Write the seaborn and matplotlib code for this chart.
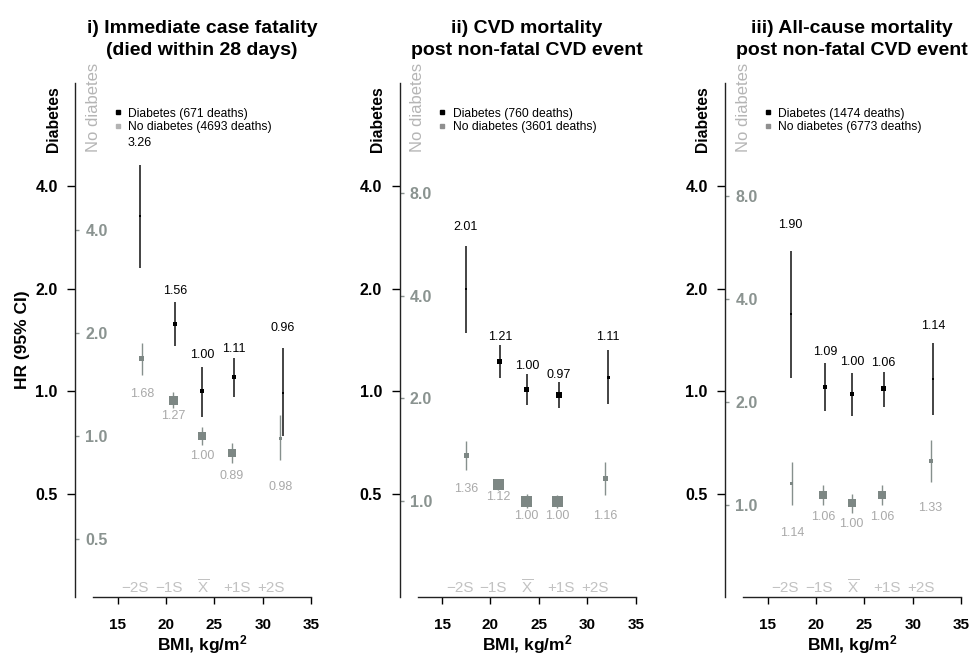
import numpy as np
import pandas as pd
import matplotlib
matplotlib.use("Agg")
import matplotlib.pyplot as plt
import seaborn as sns
from matplotlib.ticker import NullLocator
from matplotlib.lines import Line2D
from matplotlib.transforms import blended_transform_factory

sns.set_style("ticks")
plt.rcParams['font.family'] = ['Liberation Sans', 'DejaVu Sans']
plt.rcParams['mathtext.fontset'] = 'custom'
plt.rcParams['mathtext.rm'] = 'Liberation Sans'
plt.rcParams['mathtext.bf'] = 'Liberation Sans:bold'
plt.rcParams['mathtext.it'] = 'Liberation Sans:italic'
plt.rcParams['text.color'] = 'black'
plt.rcParams['axes.labelcolor'] = 'black'
plt.rcParams['xtick.color'] = 'black'
plt.rcParams['ytick.color'] = 'black'

# ---------------- data ----------------
titles = ["i) Immediate case fatality\n(died within 28 days)",
          "ii) CVD mortality\npost non-fatal CVD event",
          "iii) All-cause mortality\npost non-fatal CVD event"]
legend_dm = ["Diabetes (671 deaths)", "Diabetes (760 deaths)", "Diabetes (1474 deaths)"]
legend_nd = ["No diabetes (4693 deaths)", "No diabetes (3601 deaths)", "No diabetes (6773 deaths)"]

# Panel i
bmi_dm_1 = [17.3, 20.9, 23.7, 27.0, 32.1]
hr_dm_1 = [3.26, 1.58, 1.00, 1.10, 0.99]
lo_dm_1 = [2.30, 1.36, 0.84, 0.96, 0.74]
hi_dm_1 = [4.60, 1.83, 1.18, 1.25, 1.34]
lab_dm_1 = ["3.26", "1.56", "1.00", "1.11", "0.96"]
bmi_nd_1 = [17.5, 20.75, 23.7, 26.8, 31.8]
hr_nd_1 = [1.68, 1.27, 1.00, 0.89, 0.98]
lo_nd_1 = [1.51, 1.21, 0.94, 0.83, 0.85]
hi_nd_1 = [1.87, 1.34, 1.065, 0.95, 1.15]
lab_nd_1 = ["1.68", "1.27", "1.00", "0.89", "0.98"]

# Panel ii
bmi_dm_2 = [17.42, 20.96, 23.75, 27.03, 32.16]
hr_dm_2 = [2.00, 1.225, 1.01, 0.975, 1.10]
lo_dm_2 = [1.48, 1.094, 0.913, 0.893, 0.92]
hi_dm_2 = [2.67, 1.366, 1.124, 1.065, 1.32]
lab_dm_2 = ["2.01", "1.21", "1.00", "0.97", "1.11"]
bmi_nd_2 = [17.52, 20.79, 23.73, 26.89, 31.86]
hr_nd_2 = [1.36, 1.117, 1.00, 1.00, 1.163]
lo_nd_2 = [1.23, 1.075, 0.954, 0.954, 1.04]
hi_nd_2 = [1.50, 1.16, 1.05, 1.04, 1.30]
lab_nd_2 = ["1.36", "1.12", "1.00", "1.00", "1.16"]

# Panel iii
bmi_dm_3 = [17.37, 20.93, 23.71, 26.98, 32.08]
hr_dm_3 = [1.68, 1.032, 0.98, 1.018, 1.089]
lo_dm_3 = [1.096, 0.877, 0.847, 0.903, 0.851]
hi_dm_3 = [2.58, 1.21, 1.133, 1.141, 1.386]
lab_dm_3 = ["1.90", "1.09", "1.00", "1.06", "1.14"]
bmi_nd_3 = [17.52, 20.75, 23.68, 26.84, 31.83]
hr_nd_3 = [1.157, 1.07, 1.01, 1.07, 1.34]
lo_nd_3 = [1.0, 1.0, 0.947, 1.0, 1.166]
hi_nd_3 = [1.33, 1.14, 1.078, 1.14, 1.548]
lab_nd_3 = ["1.14", "1.06", "1.00", "1.06", "1.33"]

dm_ticks = [0.5, 1.0, 2.0, 4.0]
dm_ticklabels = ["0.5", "1.0", "2.0", "4.0"]
nd_ticks = [[0.5, 1.0, 2.0, 4.0], [1.0, 2.0, 4.0, 8.0], [1.0, 2.0, 4.0, 8.0]]
nd_ticklabels = [["0.5", "1.0", "2.0", "4.0"], ["1.0", "2.0", "4.0", "8.0"], ["1.0", "2.0", "4.0", "8.0"]]
x_ticks = [15, 20, 25, 30, 35]
sd_labels = ["\u22122S", "\u22121S", r"$\overline{\mathrm{X}}$", "+1S", "+2S"]
bmi_mean, bmi_sd = 23.8, 3.5

# ---------------- style / layout ----------------
nd_scale = [0.741, 0.477, 0.466]          # vertical shift of the no-diabetes scale
size_dm = [[2, 4, 4, 4, 2], [2, 5, 5, 6, 3], [2, 4, 4, 5, 2]]      # marker side, px
size_nd = [[5, 9, 8, 8, 3], [5, 11, 11, 11, 5], [3, 8, 8, 8, 4]]
legend_gray = ['#b3b3b3', '#8f8f8f', '#8f8f8f']
panel_left_px = [75, 399.5, 725]
W, H = 971, 655
GRAY_MK = '#7d8784'
GRAY_LN = '#86908d'
GRAY_LAB = '#a9a9a9'
GRAY_TICK = '#8a9390'
SD_COL = '#c2c2c2'

panels = [
    (bmi_dm_1, hr_dm_1, lo_dm_1, hi_dm_1, lab_dm_1, bmi_nd_1, hr_nd_1, lo_nd_1, hi_nd_1, lab_nd_1),
    (bmi_dm_2, hr_dm_2, lo_dm_2, hi_dm_2, lab_dm_2, bmi_nd_2, hr_nd_2, lo_nd_2, hi_nd_2, lab_nd_2),
    (bmi_dm_3, hr_dm_3, lo_dm_3, hi_dm_3, lab_dm_3, bmi_nd_3, hr_nd_3, lo_nd_3, hi_nd_3, lab_nd_3),
]

fig = plt.figure(figsize=(W / 100, H / 100), dpi=100)
px2pt = 0.72

for i, (bd, hd, ld, ud, labd, bn, hn, ln, un, labn) in enumerate(panels):
    k = nd_scale[i]
    ax = fig.add_axes([panel_left_px[i] / W, 58 / H, 242 / W, 514 / H])

    # no-diabetes series (gray), drawn on shifted scale
    hn_a, ln_a, un_a = np.array(hn), np.array(ln), np.array(un)
    ax.vlines(bn, ln_a * k, un_a * k, color=GRAY_LN, lw=1.0, zorder=2)
    df_nd = pd.DataFrame({"bmi": bn, "hr": hn_a * k})
    sns.scatterplot(data=df_nd, x="bmi", y="hr", marker='s',
                    s=(np.array(size_nd[i]) * px2pt) ** 2, color=GRAY_MK,
                    linewidth=0, ax=ax, zorder=3, legend=False)
    for x, e, lo, t in zip(bn, hn_a, ln_a, labn):
        ax.text(x, (e - 2.1 * (e - lo)) * k, t, ha='center', va='center',
                fontsize=9, color=GRAY_LAB, zorder=4)

    # diabetes series (black)
    hd_a, ld_a, ud_a = np.array(hd), np.array(ld), np.array(ud)
    ax.vlines(bd, ld_a, ud_a, color='#111111', lw=1.1, zorder=5)
    df_dm = pd.DataFrame({"bmi": bd, "hr": hd_a})
    sns.scatterplot(data=df_dm, x="bmi", y="hr", marker='s',
                    s=(np.array(size_dm[i]) * px2pt) ** 2, color='black',
                    linewidth=0, ax=ax, zorder=6, legend=False)
    for x, e, hi, t in zip(bd, hd_a, ud_a, labd):
        ax.text(x, e + 1.55 * (hi - e), t, ha='center', va='center',
                fontsize=9, color='black', zorder=7)

    # axes
    ax.set_yscale('log')
    ax.set_ylim(0.25, 8)
    ax.set_xlim(10.6, 35.6)
    ax.set_yticks(dm_ticks, dm_ticklabels, fontweight='bold')
    ax.yaxis.set_minor_locator(NullLocator())
    ax.set_xticks(x_ticks, [str(v) for v in x_ticks], fontweight='bold')
    ax.tick_params(axis='y', direction='out', length=6, width=1, pad=6.5,
                   labelsize=11.5, colors='black')
    ax.tick_params(axis='x', direction='out', length=5, width=1, pad=10,
                   labelsize=11, colors='black')
    for s in ['top', 'right']:
        ax.spines[s].set_visible(False)
    for s in ['left', 'bottom']:
        ax.spines[s].set_linewidth(1.0)
        ax.spines[s].set_color('#222222')
    ax.spines['bottom'].set_bounds(12.5, 35)
    ax.set_ylabel("")
    ax.set_xlabel(r"BMI, kg/m$^{\mathbf{2}}$", fontsize=12.5, fontweight='bold',
                  color='black')
    ax.xaxis.set_label_coords(0.526, -0.071)

    # gray secondary scale (no diabetes)
    sec = ax.secondary_yaxis(0, functions=(lambda y, k=k: y / k, lambda g, k=k: g * k))
    sec.set_alignment('right')
    sec.set_ticks(nd_ticks[i], nd_ticklabels[i], fontweight='bold')
    sec.yaxis.set_minor_locator(NullLocator())
    sec.tick_params(axis='y', direction='out', length=3, width=1, pad=4.5,
                    labelsize=11.5, colors=GRAY_TICK)
    for s in sec.spines.values():
        s.set_visible(False)

    # SD labels near x-axis
    tr = blended_transform_factory(ax.transData, ax.transAxes)
    for j, t in enumerate(sd_labels):
        ax.text(bmi_mean + (j - 2) * bmi_sd, 0.0175, t, transform=tr, ha='center',
                va='center', fontsize=11, color=SD_COL)

    # rotated group labels
    ax.text(-22 / 242, 0.866, "Diabetes", transform=ax.transAxes, rotation=90,
            rotation_mode='anchor', ha='left', va='center', fontsize=11.3,
            fontweight='bold', color='black', clip_on=False)
    ax.text(18 / 242, 0.866, "No diabetes", transform=ax.transAxes, rotation=90,
            rotation_mode='anchor', ha='left', va='center', fontsize=12,
            color='#b5b5b5', clip_on=False)
    if i == 0:
        ax.text(-53 / 242, 0.5, "HR (95% CI)", transform=ax.transAxes, rotation=90,
                ha='center', va='center', fontsize=12.5, fontweight='bold',
                color='black')

    # legend
    handles = [Line2D([], [], marker='s', linestyle='', color='black', markersize=3.2),
               Line2D([], [], marker='s', linestyle='', color=legend_gray[i], markersize=3.2)]
    leg = ax.legend(handles, [legend_dm[i], legend_nd[i]], loc='upper left',
                    bbox_to_anchor=(0.165, 0.952), frameon=False, fontsize=8.7,
                    handlelength=0.5, handletextpad=0.6, labelspacing=0.12,
                    borderpad=0, borderaxespad=0)
    for t in leg.get_texts():
        t.set_color('black')

    ax.set_title(titles[i], fontsize=14, fontweight='bold', x=0.525, pad=20,
                 linespacing=1.38, color='black')

fig.savefig("out.png", dpi=100)
